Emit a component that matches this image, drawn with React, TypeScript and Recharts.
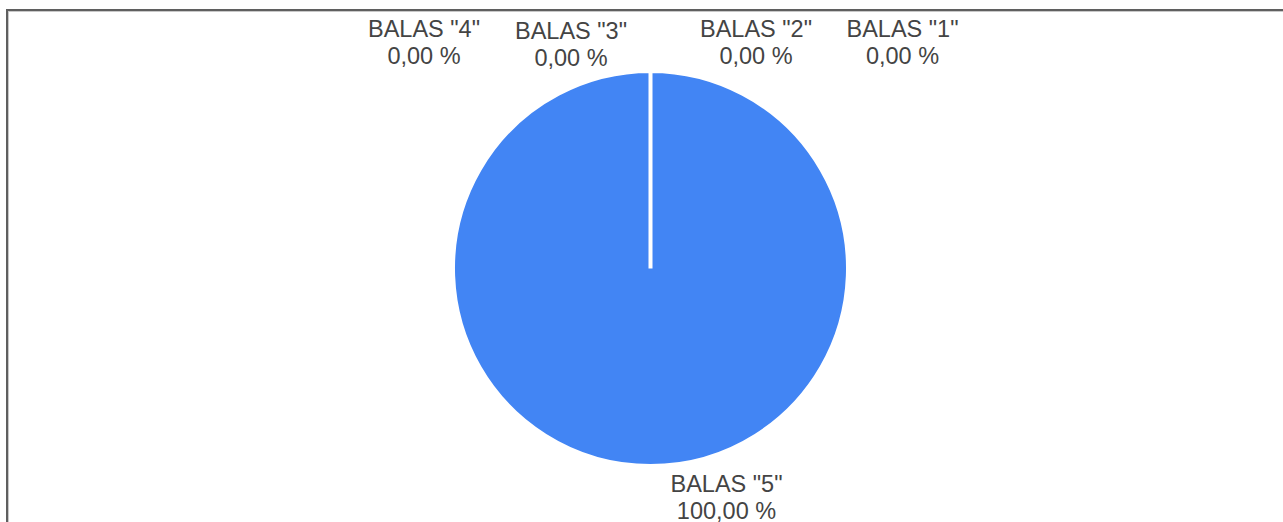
import { PieChart, Pie, Cell } from "recharts";

const categories = ['BALAS "1"', 'BALAS "2"', 'BALAS "3"', 'BALAS "4"', 'BALAS "5"'];
const values = [0, 0, 0, 0, 100];
const sliceColors = ["#4285f4", "#db4437", "#f4b400", "#0f9d58", "#4285f4"];

// label offsets (px) from the slice's outer anchor point, one per slice
const labelDx = [252, 105.5, -79.5, -226.5, 76];
const labelDy = [-36, -36, -34.5, -36, 27.7];

const data = categories.map((name, i) => ({ name, value: values[i] }));

const fmtPct = (p: number) => (p * 100).toFixed(2).replace(".", ",") + " %";

function renderLabel(props: any) {
  const { cx, cy, outerRadius, midAngle, index, name, percent } = props;
  const rad = (-midAngle * Math.PI) / 180;
  const ax = cx + (outerRadius - 2) * Math.cos(rad);
  const ay = cy + (outerRadius - 2) * Math.sin(rad);
  const x = ax + labelDx[index];
  const y = ay + labelDy[index];
  return (
    <text
      key={`lbl-${index}`}
      x={x}
      y={y}
      textAnchor="middle"
      fill="#444444"
      fontFamily='"Liberation Sans", Arial, sans-serif'
      fontSize={23.5}
    >
      <tspan x={x} y={y}>{name}</tspan>
      <tspan x={x} y={y + 27}>{fmtPct(percent ?? 0)}</tspan>
    </text>
  );
}

export default function App() {
  return (
    <div style={{ position: "absolute", left: 0, top: 0, width: 1283, height: 522, overflow: "hidden", background: "#fff" }}>
      <div
        style={{
          position: "absolute",
          left: 6,
          top: 9,
          width: 1400,
          height: 600,
          border: "2px solid #5f5f5f",
          boxShadow: "inset 1px 1px 0 #c8c8c8",
          boxSizing: "border-box",
        }}
      />
      <div style={{ position: "absolute", left: 0, top: 0 }}>
        <PieChart width={1283} height={522} margin={{ top: 0, right: 0, bottom: 0, left: 0 }}>
          <Pie
            data={data}
            dataKey="value"
            nameKey="name"
            cx={650.5}
            cy={268.5}
            outerRadius={197.5}
            startAngle={90}
            endAngle={-270}
            stroke="#ffffff"
            strokeWidth={4}
            label={renderLabel}
            labelLine={false}
            isAnimationActive={false}
          >
            {data.map((d, i) => (
              <Cell key={d.name} fill={sliceColors[i]} />
            ))}
          </Pie>
        </PieChart>
      </div>
    </div>
  );
}
